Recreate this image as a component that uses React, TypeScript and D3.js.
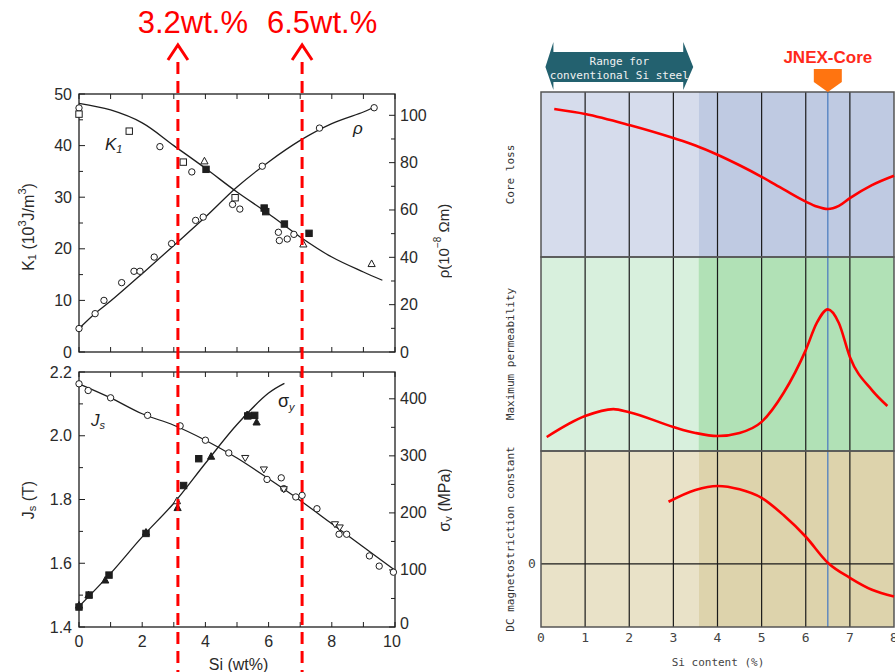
import React from "react";
import * as d3 from "d3";

// ---------- Left chart data ----------
const siTicksLabel = [0, 2, 4, 6, 8, 10];
const siTicksMinor = [0, 1, 2, 3, 4, 5, 6, 7, 8, 9, 10];
const k1Ticks = [0, 10, 20, 30, 40, 50];
const k1Minor = [5, 15, 25, 35, 45];
const rhoTicks = [0, 20, 40, 60, 80, 100];
const rhoMinor = [10, 30, 50, 70, 90];
const jsTicks = [1.4, 1.6, 1.8, 2.0, 2.2];
const jsMinor = [1.5, 1.7, 1.9, 2.1];
const sigTicks = [0, 100, 200, 300, 400];
const sigMinor = [50, 150, 250, 350];

const k1CurveSi = [0, 1, 2, 3, 4, 5, 6, 7, 8, 9, 9.6];
const k1CurveVal = [48.2, 46.9, 44.4, 40.0, 35.6, 31.0, 26.8, 22.3, 18.4, 15.5, 13.9];
const rhoCurveSi = [0, 0.5, 1, 2, 3, 4, 5, 6, 7, 8, 9, 9.3];
const rhoCurveVal = [9.9, 16.2, 21.5, 33.1, 45.0, 57.0, 69.7, 80.3, 89.4, 96.5, 101.4, 103.2];
const jsCurveSi = [0, 1, 2, 3, 4, 5, 6, 7, 8, 9, 10];
const jsCurveVal = [2.163, 2.119, 2.069, 2.033, 1.986, 1.93, 1.865, 1.797, 1.724, 1.651, 1.578];
const sigCurveSi = [0, 1, 2, 3, 4, 5, 6, 6.5];
const sigCurveVal = [36, 94, 158, 217, 287, 355, 410, 427];

const k1Circles: [number, number][] = [[0, 47.3], [2.56, 39.8], [3.57, 34.9], [4.86, 28.6], [5.09, 27.7], [6.31, 23.2], [6.34, 21.6], [6.59, 21.9], [6.8, 22.8]];
const k1Squares: [number, number][] = [[0, 46.1], [1.59, 42.8], [3.3, 36.8], [4.94, 29.9]];
const k1Triangles: [number, number][] = [[3.97, 37.0], [7.1, 20.9], [9.26, 17.1]];
const k1FilledSquares: [number, number][] = [[4.02, 35.4], [5.86, 27.9], [5.91, 27.2], [6.5, 24.8], [7.28, 23.0]];
const rhoCircles: [number, number][] = [[0, 9.9], [0.51, 16.2], [0.79, 21.8], [1.35, 29.3], [1.74, 34.1], [1.93, 34.1], [2.38, 40.1], [2.93, 45.8], [3.69, 55.6], [3.93, 57.0], [5.8, 78.5], [7.61, 94.6], [9.34, 103.2]];
const jsCircles: [number, number][] = [[0, 2.163], [0.29, 2.142], [1.0, 2.119], [2.17, 2.064], [3.2, 2.031], [4.0, 1.986], [4.74, 1.946], [5.95, 1.863], [6.4, 1.868], [6.48, 1.834], [6.86, 1.808], [7.06, 1.813], [7.53, 1.771], [8.23, 1.691], [8.47, 1.691], [9.19, 1.623], [9.5, 1.591], [9.95, 1.572]];
const jsInvTriangles: [number, number][] = [[5.26, 1.93], [5.85, 1.894], [6.48, 1.832], [8.1, 1.722], [8.25, 1.712]];
const sigFilledTriangles: [number, number][] = [[0, 38], [0.3, 56], [0.83, 82], [2.12, 166], [3.12, 209], [4.18, 299], [5.32, 372], [5.62, 359]];
const sigOpenTriangles: [number, number][] = [[3.1, 221]];
const sigFilledSquares: [number, number][] = [[0, 35], [0.32, 56], [0.95, 91], [2.12, 164], [3.31, 248], [3.79, 295], [5.34, 370], [5.56, 371]];

const markLinesSi = [3.13, 7.06];
const markLabels = ["3.2wt.%", "6.5wt.%"];

// ---------- Right chart data ----------
const siTicksR = [0, 1, 2, 3, 4, 5, 6, 7, 8];
const gridR = [1, 2, 3, 4, 5, 6, 7];
const conventionalRange = [0.1, 3.45];
const shadeSplit = 3.57;
const jnexSi = 6.5;

const coreLossSi = [0.3, 1, 2, 3, 3.5, 4, 4.5, 5, 5.5, 6, 6.25, 6.5, 6.75, 7, 7.5, 8];
const coreLossVal = [0.897, 0.867, 0.8, 0.721, 0.676, 0.62, 0.556, 0.486, 0.41, 0.336, 0.306, 0.291, 0.31, 0.357, 0.436, 0.493];
const permSi = [0.13, 1, 1.64, 2, 3, 3.5, 4, 4.5, 5, 5.5, 6, 6.25, 6.5, 6.75, 7, 7.5, 7.85];
const permVal = [0.072, 0.18, 0.216, 0.2, 0.124, 0.093, 0.077, 0.093, 0.15, 0.3, 0.52, 0.66, 0.73, 0.66, 0.485, 0.314, 0.232];
const dcSi = [2.89, 3.5, 4, 4.5, 5, 5.5, 6, 6.5, 7, 7.5, 8];
const dcVal = [0.55, 0.655, 0.69, 0.66, 0.584, 0.43, 0.24, 0.01, -0.124, -0.23, -0.29];

const zip = (a: number[], b: number[]) => a.map((v, i) => [v, b[i]] as [number, number]);

const FONT = "'Liberation Sans', Arial, Helvetica, sans-serif";
const MONO = "'DejaVu Sans Mono', 'Liberation Mono', monospace";
const INK = "#1e1e1e";

function Marker({ x, y, kind }: { x: number; y: number; kind: string }) {
  const s = 3.2;
  const common = { stroke: INK, strokeWidth: 1 };
  if (kind === "circle") return <circle cx={x} cy={y} r={s} fill="#fff" {...common} />;
  if (kind === "square") return <rect x={x - s} y={y - s} width={2 * s} height={2 * s} fill="#fff" {...common} />;
  if (kind === "fsquare") return <rect x={x - s} y={y - s} width={2 * s} height={2 * s} fill={INK} {...common} />;
  if (kind === "tri" || kind === "ftri")
    return <path d={`M${x},${y - s - 0.6}L${x + s + 0.4},${y + s - 0.4}L${x - s - 0.4},${y + s - 0.4}Z`} fill={kind === "ftri" ? INK : "#fff"} {...common} />;
  if (kind === "itri")
    return <path d={`M${x},${y + s + 0.2}L${x + s + 0.4},${y - s + 0.6}L${x - s - 0.4},${y - s + 0.6}Z`} fill="#fff" {...common} />;
  return null;
}

export default function App() {
  // Left chart scales
  const xL = d3.scaleLinear().domain([0, 10]).range([79, 395]);
  const yK = d3.scaleLinear().domain([0, 50]).range([352, 94]);
  const yRho = d3.scaleLinear().domain([0, 109]).range([352, 94]);
  const yJ = d3.scaleLinear().domain([1.4, 2.2]).range([627, 372]);
  const ySig = d3.scaleLinear().domain([0, 447]).range([627, 372]);

  const lineOf = (ys: d3.ScaleLinear<number, number>) =>
    d3.line<[number, number]>().x((d) => xL(d[0])).y((d) => ys(d[1])).curve(d3.curveCatmullRom);

  // Right chart scales
  const xR = d3.scaleLinear().domain([0, 8]).range([541, 894]);
  const yCore = d3.scaleLinear().domain([0, 1]).range([257, 92]);
  const yPerm = d3.scaleLinear().domain([0, 1]).range([451, 257]);
  const yDC = d3.scaleLinear().domain([-0.56, 1]).range([627, 451]);
  const lineR = (ys: d3.ScaleLinear<number, number>) =>
    d3.line<[number, number]>().x((d) => xR(d[0])).y((d) => ys(d[1])).curve(d3.curveMonotoneX);

  const panels = [
    { ys: yCore, light: "#d6dcec", dark: "#bfcae2", label: "Core loss" },
    { ys: yPerm, light: "#d8f0dd", dark: "#b1e1b6", label: "Maximum permeability" },
    { ys: yDC, light: "#e9e2c8", dark: "#ddd3ac", label: "DC magnetostriction constant" },
  ];

  const leftPanels = [
    { yl: yK, yr: yRho, lt: k1Ticks, lm: k1Minor, rt: rhoTicks, rm: rhoMinor, fmt: (v: number) => String(v) },
    { yl: yJ, yr: ySig, lt: jsTicks, lm: jsMinor, rt: sigTicks, rm: sigMinor, fmt: (v: number) => v.toFixed(1) },
  ];

  const ra0 = xR(conventionalRange[0]);
  const ra1 = xR(conventionalRange[1]);
  const arrowPts = [
    [ra0, 67], [ra0 + 8, 42], [ra0 + 8, 52], [ra1 - 10, 52], [ra1 - 10, 42], [ra1, 67],
    [ra1 - 10, 90], [ra1 - 10, 82], [ra0 + 8, 82], [ra0 + 8, 90],
  ].map((p) => p.join(",")).join(" ");

  const jx = xR(jnexSi);

  return (
    <svg width={895} height={672} style={{ position: "absolute", left: 0, top: 0, background: "#fff" }}>
      <defs>
        <clipPath id="leftclip"><rect x={0} y={0} width={452} height={672} /></clipPath>
        <clipPath id="rightclip"><rect x={0} y={0} width={895} height={672} /></clipPath>
      </defs>

      {/* ================= LEFT CHART ================= */}
      <g clipPath="url(#leftclip)" fontFamily={FONT} fill={INK}>
        {leftPanels.map((p, pi) => {
          const [y0, y1] = p.yl.range();
          return (
            <g key={pi}>
              <rect x={79} y={y1} width={316} height={y0 - y1} fill="none" stroke={INK} strokeWidth={1.3} />
              {siTicksMinor.map((t) => (
                <g key={t}>
                  <line x1={xL(t)} x2={xL(t)} y1={y0} y2={y0 - 5} stroke={INK} />
                  <line x1={xL(t)} x2={xL(t)} y1={y1} y2={y1 + 5} stroke={INK} />
                </g>
              ))}
              {p.lt.map((t) => (
                <g key={"l" + t}>
                  <line x1={79} x2={85} y1={p.yl(t)} y2={p.yl(t)} stroke={INK} />
                  <text x={72} y={p.yl(t)} textAnchor="end" dominantBaseline="central" fontSize={16} fill="#2a2a2a">{p.fmt(t)}</text>
                </g>
              ))}
              {p.lm.map((t) => (
                <line key={"lm" + t} x1={79} x2={83} y1={p.yl(t)} y2={p.yl(t)} stroke={INK} />
              ))}
              {p.rt.map((t) => (
                <g key={"r" + t}>
                  <line x1={395} x2={389} y1={p.yr(t)} y2={p.yr(t)} stroke={INK} />
                  <text x={400} y={p.yr(t) - (pi === 1 && t === 0 ? 4 : 0)} dominantBaseline="central" fontSize={16} fill="#2a2a2a">{t}</text>
                </g>
              ))}
              {p.rm.map((t) => (
                <line key={"rm" + t} x1={395} x2={391} y1={p.yr(t)} y2={p.yr(t)} stroke={INK} />
              ))}
            </g>
          );
        })}

        {siTicksLabel.map((t) => (
          <text key={t} x={xL(t) - (t === 10 ? 3 : 0)} y={641} textAnchor="middle" dominantBaseline="central" fontSize={16} fill="#2a2a2a">{t}</text>
        ))}
        <text x={xL(5.05)} y={664} textAnchor="middle" dominantBaseline="central" fontSize={16} fill="#2a2a2a">Si (wt%)</text>

        {/* axis titles */}
        <text transform="translate(28,227) rotate(-90)" textAnchor="middle" dominantBaseline="central" fontSize={16} fill="#2a2a2a">
          K<tspan fontSize={11} dy={4}>1</tspan><tspan dy={-4}> (10</tspan><tspan fontSize={11} dy={-6}>3</tspan><tspan dy={6}>J/m</tspan><tspan fontSize={11} dy={-6}>3</tspan><tspan dy={6}>)</tspan>
        </text>
        <text transform="translate(443,241) rotate(-90)" textAnchor="middle" dominantBaseline="central" fontSize={15} fill="#2a2a2a">
          ρ(10<tspan fontSize={10} dy={-6}>−8</tspan><tspan dy={6}> Ωm)</tspan>
        </text>
        <text transform="translate(28,500) rotate(-90)" textAnchor="middle" dominantBaseline="central" fontSize={16} fill="#2a2a2a">
          J<tspan fontSize={11} dy={4}>s</tspan><tspan dy={-4}> (T)</tspan>
        </text>
        <text transform="translate(444,500) rotate(-90)" textAnchor="middle" dominantBaseline="central" fontSize={16} fill="#2a2a2a">
          σ<tspan fontSize={11} dy={4}>y</tspan><tspan dy={-4}> (MPa)</tspan>
        </text>

        {/* curves */}
        <path d={lineOf(yK)(zip(k1CurveSi, k1CurveVal)) || ""} fill="none" stroke={INK} strokeWidth={1.3} />
        <path d={lineOf(yRho)(zip(rhoCurveSi, rhoCurveVal)) || ""} fill="none" stroke={INK} strokeWidth={1.3} />
        <path d={lineOf(yJ)(zip(jsCurveSi, jsCurveVal)) || ""} fill="none" stroke={INK} strokeWidth={1.3} />
        <path d={lineOf(ySig)(zip(sigCurveSi, sigCurveVal)) || ""} fill="none" stroke={INK} strokeWidth={1.3} />

        {k1Circles.map((d, i) => <Marker key={"kc" + i} x={xL(d[0])} y={yK(d[1])} kind="circle" />)}
        {k1Squares.map((d, i) => <Marker key={"ks" + i} x={xL(d[0])} y={yK(d[1])} kind="square" />)}
        {k1Triangles.map((d, i) => <Marker key={"kt" + i} x={xL(d[0])} y={yK(d[1])} kind="tri" />)}
        {k1FilledSquares.map((d, i) => <Marker key={"kf" + i} x={xL(d[0])} y={yK(d[1])} kind="fsquare" />)}
        {rhoCircles.map((d, i) => <Marker key={"rc" + i} x={xL(d[0])} y={yRho(d[1])} kind="circle" />)}
        {jsCircles.map((d, i) => <Marker key={"jc" + i} x={xL(d[0])} y={yJ(d[1])} kind="circle" />)}
        {jsInvTriangles.map((d, i) => <Marker key={"ji" + i} x={xL(d[0])} y={yJ(d[1])} kind="itri" />)}
        {sigFilledTriangles.map((d, i) => <Marker key={"st" + i} x={xL(d[0])} y={ySig(d[1])} kind="ftri" />)}
        {sigOpenTriangles.map((d, i) => <Marker key={"so" + i} x={xL(d[0])} y={ySig(d[1])} kind="tri" />)}
        {sigFilledSquares.map((d, i) => <Marker key={"sf" + i} x={xL(d[0])} y={ySig(d[1])} kind="fsquare" />)}

        {/* curve labels */}
        <text x={105} y={150} fontSize={17} fontStyle="italic">K<tspan fontSize={11} dy={3}>1</tspan></text>
        <text x={353} y={134} fontSize={17} fontStyle="italic">ρ</text>
        <text x={91} y={426} fontSize={17} fontStyle="italic">J<tspan fontSize={11} dy={3}>s</tspan></text>
        <text x={278} y={407} fontSize={18}>σ<tspan fontSize={11} fontStyle="italic" dy={4}>y</tspan></text>
      </g>

      {/* red dashed marker lines */}
      {markLinesSi.map((s, i) => {
        const x = xL(s);
        return (
          <g key={"ml" + i}>
            <line x1={x} x2={x} y1={62} y2={672} stroke="#ff0000" strokeWidth={3} strokeDasharray="12,7" />
            <path d={`M${x - 10},${60}L${x},${45}L${x + 10},${60}`} fill="none" stroke="#ff0000" strokeWidth={3} />
            <text x={x + (i === 0 ? 15 : 20)} y={33} textAnchor="middle" fontFamily={FONT} fontSize={31} fill="#ff0000">{markLabels[i]}</text>
          </g>
        );
      })}

      {/* ================= RIGHT CHART ================= */}
      <g clipPath="url(#rightclip)">
        {panels.map((p, i) => {
          const [b, t] = p.ys.range();
          return (
            <g key={"bg" + i}>
              <rect x={xR(0)} y={t} width={xR(shadeSplit) - xR(0)} height={b - t} fill={p.light} />
              <rect x={xR(shadeSplit)} y={t} width={xR(8) - xR(shadeSplit)} height={b - t} fill={p.dark} />
            </g>
          );
        })}
        {gridR.map((g) => (
          <line key={"g" + g} x1={xR(g)} x2={xR(g)} y1={92} y2={627} stroke="#1a1a1a" strokeWidth={1.2} />
        ))}
        <line x1={xR(0)} x2={xR(8)} y1={yDC(0)} y2={yDC(0)} stroke="#1a1a1a" strokeWidth={1.2} />
        <line x1={jx} x2={jx} y1={92} y2={627} stroke="#4f7fc0" strokeWidth={1.3} />
        {panels.map((p, i) => {
          const [b, t] = p.ys.range();
          return <rect key={"fr" + i} x={xR(0)} y={t} width={xR(8) - xR(0)} height={b - t} fill="none" stroke="#555" strokeWidth={1.5} />;
        })}

        <path d={lineR(yCore)(zip(coreLossSi, coreLossVal)) || ""} fill="none" stroke="#ff0000" strokeWidth={2.6} />
        <path d={lineR(yPerm)(zip(permSi, permVal)) || ""} fill="none" stroke="#ff0000" strokeWidth={2.6} />
        <path d={lineR(yDC)(zip(dcSi, dcVal)) || ""} fill="none" stroke="#ff0000" strokeWidth={2.6} />

        {/* axis labels */}
        {siTicksR.map((t) => (
          <text key={"xr" + t} x={xR(t)} y={637} textAnchor="middle" dominantBaseline="central" fontFamily={MONO} fontSize={13} fill="#444">{t}</text>
        ))}
        <text x={718} y={662} textAnchor="middle" dominantBaseline="central" fontFamily={MONO} fontSize={11} fill="#444">Si content (%)</text>
        <text x={532} y={yDC(0)} textAnchor="middle" dominantBaseline="central" fontFamily={MONO} fontSize={13} fill="#444">0</text>
        {panels.map((p, i) => {
          const [b, t] = p.ys.range();
          return (
            <text key={"pl" + i} transform={`translate(510,${(b + t) / 2}) rotate(-90)`} textAnchor="middle" dominantBaseline="central" fontFamily={MONO} fontSize={11} fill="#333">{p.label}</text>
          );
        })}

        {/* conventional range arrow */}
        <polygon points={arrowPts} fill="#23616f" />
        <text x={(ra0 + ra1) / 2} y={65} textAnchor="middle" fontFamily={MONO} fontSize={11} fill="#f2f2f2">Range for</text>
        <text x={(ra0 + ra1) / 2} y={79} textAnchor="middle" fontFamily={MONO} fontSize={11} fill="#f2f2f2">conventional Si steel</text>

        {/* JNEX-Core marker */}
        <text x={jx} y={63} textAnchor="middle" fontFamily={FONT} fontWeight="bold" fontSize={17} fill="#ff2a1a">JNEX-Core</text>
        <path d={`M${jx - 14},69L${jx + 14},69L${jx + 14},82L${jx},92L${jx - 14},82Z`} fill="#ff7410" />
      </g>
    </svg>
  );
}
